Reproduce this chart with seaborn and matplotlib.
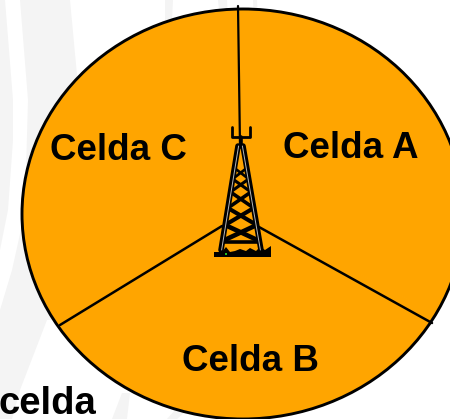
import matplotlib
matplotlib.use('Agg')
import matplotlib.pyplot as plt
from matplotlib.patches import Ellipse
import seaborn as sns

sns.set_theme(style='white')
plt.rcParams['font.family'] = ['Liberation Sans', 'DejaVu Sans']

cells = ['Celda A', 'Celda B', 'Celda C']
shares = [119, 119, 122]
caption = 'celda'

orange = '#FFA500'
swoosh = '#F4F4F4'

# faint background shapes, in pixels
band_1 = [(0, 0), (5, 0), (13, 100), (13, 140), (8, 210), (0, 250)]
band_2 = [(20, 0), (70, 0), (77, 75), (100, 150), (80, 320), (47, 320), (20, 390), (12, 419), (0, 419),
          (0, 310), (12, 270), (22, 225), (26, 170), (28, 100)]
band_3 = [(112, 419), (122, 393), (130, 393), (127, 419)]
band_4 = [(167, 419), (175, 410), (185, 412), (177, 419)]
band_5 = [(165, 0), (173, 0), (172, 20), (165, 20)]
band_6 = [(218, 0), (227, 0), (228, 20), (220, 20)]
band_7 = [(253, 0), (257, 0), (258, 20), (254, 20)]

# tower, in pixels
leg_top = 146
leg_bottom = 250
brace_levels = [168, 179, 192, 208, 225, 241]


def left_leg(y):
    return 238 - 17 * (y - leg_top) / (leg_bottom - leg_top)


def right_leg(y):
    return 243 + 18 * (y - leg_top) / (leg_bottom - leg_top)


fig = plt.figure(figsize=(4.5, 4.19), dpi=100)

ax_bg = fig.add_axes([0, 0, 1, 1], zorder=0)
ax_bg.set_xlim(0, 450)
ax_bg.set_ylim(419, 0)
ax_bg.axis('off')
for band in [band_1, band_2, band_3, band_4, band_5, band_6, band_7]:
    ax_bg.fill(*zip(*band), color=swoosh, lw=0)

# pie axes covers the stretched circle, it runs past the figure on the right
ax_pie = fig.add_axes([22 / 450, 0, 442 / 450, 410 / 419], zorder=1)
ax_pie.pie(shares, colors=[orange] * 3, startangle=90, counterclock=False, radius=1,
           wedgeprops={'linewidth': 0.8, 'edgecolor': orange})
ax_pie.set_xlim(-1, 1)
ax_pie.set_ylim(-1, 1)
ax_pie.set_aspect('auto')
ax_pie.axis('off')

ax = fig.add_axes([0, 0, 1, 1], zorder=2)
ax.set_xlim(0, 450)
ax.set_ylim(419, 0)
ax.axis('off')
ax.patch.set_alpha(0)

ax.add_patch(Ellipse((243, 214), 442, 410, fc='none', ec='black', lw=2.1))
ax.plot([238, 240], [6, 146], color='black', lw=1.6)
ax.plot([60, 222], [325, 226], color='black', lw=1.8)
ax.plot([432, 259], [323, 227], color='black', lw=1.8)

# trident on top
ax.plot([231.5, 231.5, 250, 250], [127, 137, 137, 127], color='black', lw=2)
ax.plot([240.5, 240.5], [137, 147], color='black', lw=2.6)

# legs with the grey stripe inside
ax.plot([left_leg(leg_top), left_leg(leg_bottom)], [leg_top, leg_bottom], color='black', lw=4)
ax.plot([right_leg(leg_top), right_leg(leg_bottom)], [leg_top, leg_bottom], color='black', lw=4)
ax.plot([238, 243], [leg_top, leg_top], color='black', lw=2.5)

for y0, y1 in zip(brace_levels[:-1], brace_levels[1:]):
    lw = 1.8 + (y1 - 172) * 0.022
    ax.plot([left_leg(y0), right_leg(y1)], [y0, y1], color='black', lw=lw)
    ax.plot([right_leg(y0), left_leg(y1)], [y0, y1], color='black', lw=lw)
ax.plot([left_leg(242), right_leg(242)], [242, 242], color='black', lw=2.6)
ax.plot([left_leg(leg_top) + 0.6, left_leg(leg_bottom) + 0.6], [leg_top, leg_bottom], color='#B8B8B8', lw=0.7)
ax.plot([right_leg(leg_top) - 0.6, right_leg(leg_bottom) - 0.6], [leg_top, leg_bottom], color='#B8B8B8', lw=0.7)

# base
ax.fill([214, 214, 222, 226, 230, 235, 240, 246, 250, 256, 260, 265, 271, 271],
        [257, 252, 252, 247, 252, 251, 249, 251, 248, 251, 247, 250, 246, 257], color='black', lw=0)
ax.plot([225.5], [254], 's', color='#22C022', ms=2, mew=0)

label_style = dict(fontsize=26.5, fontweight='bold', color='black', ha='center', va='baseline')
ax.text(351, 158, cells[0], **label_style)
ax.text(250.5, 371, cells[1], **label_style)
ax.text(118.5, 160, cells[2], **label_style)
ax.text(96, 414, caption, fontsize=27.5, fontweight='bold', color='black', ha='right', va='baseline')

fig.savefig('out.png', dpi=100)
